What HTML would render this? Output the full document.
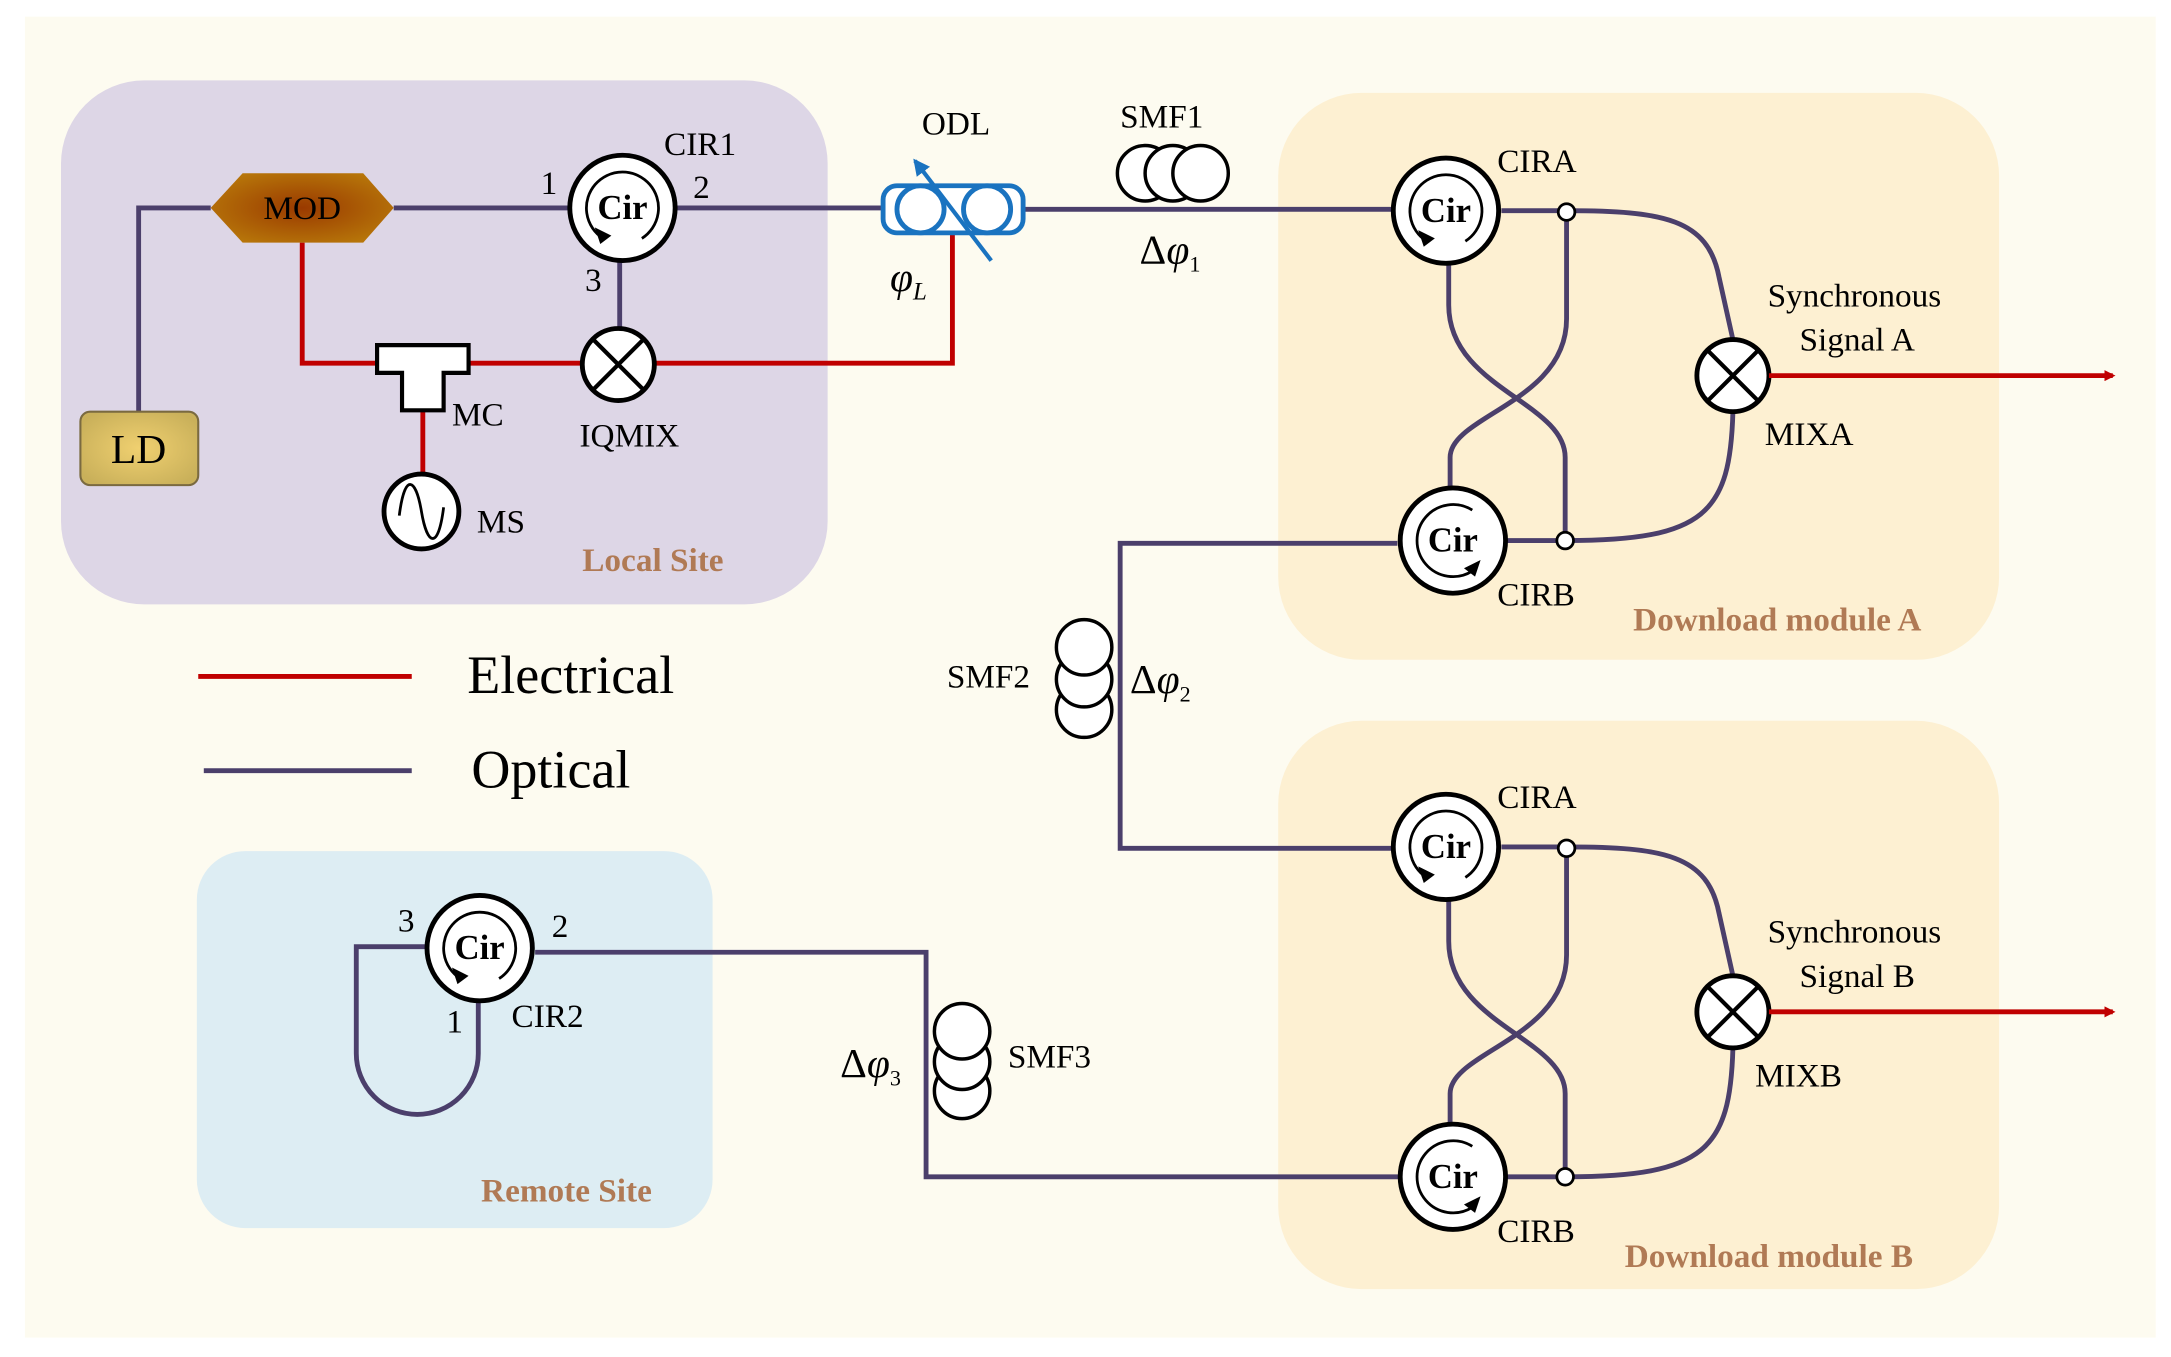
<!DOCTYPE html>
<html><head><meta charset="utf-8"><style>html,body{margin:0;padding:0;background:#fff}svg{display:block}</style></head><body>
<svg width="2171" height="1357" viewBox="0 0 1566 979" preserveAspectRatio="none" xmlns="http://www.w3.org/2000/svg" font-family="'Liberation Serif',serif">
<defs>
<radialGradient id="gMod" cx="50%" cy="50%" r="60%"><stop offset="0" stop-color="#9a3a00"/><stop offset="1" stop-color="#b8780a"/></radialGradient>
<radialGradient id="gLd" cx="50%" cy="50%" r="60%"><stop offset="0" stop-color="#f0d070"/><stop offset="1" stop-color="#c9b05a"/></radialGradient>
<marker id="ar" markerWidth="8" markerHeight="8" refX="6" refY="4" orient="auto" markerUnits="userSpaceOnUse"><path d="M0,0 L8,4 L0,8 z" fill="#c00000"/></marker>
<marker id="ab" markerWidth="14" markerHeight="14" refX="10" refY="7" orient="auto" markerUnits="userSpaceOnUse"><path d="M0,1 L12,7 L0,13 z" fill="#1a73c0"/></marker>
<g id="cirA">
<circle r="38" fill="#fff" stroke="#000" stroke-width="3.5"/>
<path d="M-14,22 A26,26 0 1 1 14,22" fill="none" stroke="#000" stroke-width="2"/>
<path d="M-20,14 L-16,26 L-8,20 z" fill="#000"/>
<text x="0" y="8" text-anchor="middle" font-size="25" font-weight="bold">Cir</text>
</g>
<g id="cirB">
<circle r="38" fill="#fff" stroke="#000" stroke-width="3.5"/>
<path d="M14,-22 A26,26 0 1 0 14,22" fill="none" stroke="#000" stroke-width="2"/>
<path d="M20,14 L16,26 L8,20 z" fill="#000"/>
<text x="0" y="8" text-anchor="middle" font-size="25" font-weight="bold">Cir</text>
</g>
<g id="mix">
<circle r="26" fill="#fff" stroke="#000" stroke-width="3.5"/>
<path d="M-18,-18 L18,18 M18,-18 L-18,18" stroke="#000" stroke-width="3"/>
</g>
<g id="module">
<path d="M1083,152 L1130,152 C1200,152 1232,158 1240,200 L1250,245" fill="none" stroke="#4b3f6b" stroke-width="3.5"/>
<path d="M1250,297 C1248,370 1230,390 1130,390 L1087,390" fill="none" stroke="#4b3f6b" stroke-width="3.5"/>
<path d="M1130,158 L1130,230 C1130,290 1046,300 1046,330 L1046,352" fill="none" stroke="#4b3f6b" stroke-width="3.5"/>
<path d="M1045,190 L1045,220 C1045,280 1129,290 1129,330 L1129,385" fill="none" stroke="#4b3f6b" stroke-width="3.5"/>
<use href="#cirA" x="1043" y="152"/>
<use href="#cirB" x="1048" y="390"/>
<circle cx="1130" cy="153" r="6" fill="#fff" stroke="#000" stroke-width="2"/>
<circle cx="1129" cy="390" r="6" fill="#fff" stroke="#000" stroke-width="2"/>
<use href="#mix" x="1250" y="271"/>
<line x1="1276" y1="271" x2="1524" y2="271" stroke="#c00000" stroke-width="3.5" marker-end="url(#ar)"/>
<text x="1080" y="124" font-size="24">CIRA</text>
<text x="1080" y="437" font-size="24">CIRB</text>
<text x="1275" y="221" font-size="24">Synchronous</text>
</g>
</defs>
<rect width="1566" height="979" fill="#fff"/>
<rect x="18" y="12" width="1537" height="953" fill="#fdfbf0"/>
<rect x="44" y="58" width="553" height="378" rx="60" fill="#ddd6e6"/>
<rect x="142" y="614" width="372" height="272" rx="35" fill="#ddedf3"/>
<rect x="922" y="67" width="520" height="409" rx="60" fill="#fdf0d2"/>
<rect x="922" y="520" width="520" height="410" rx="60" fill="#fdf0d2"/>
<line x1="143" y1="488" x2="297" y2="488" stroke="#c00000" stroke-width="3.5"/>
<text x="337" y="500" font-size="39">Electrical</text>
<line x1="147" y1="556" x2="297" y2="556" stroke="#4b3f6b" stroke-width="3.5"/>
<text x="340" y="568" font-size="39">Optical</text>
<g fill="none" stroke-width="3.5">
<path d="M100,297 L100,150 L152,150" stroke="#4b3f6b"/>
<path d="M284,150 L410,150" stroke="#4b3f6b"/>
<path d="M488,150 L637,150" stroke="#4b3f6b"/>
<path d="M738,151 L1004,151" stroke="#4b3f6b"/>
<path d="M447,189 L447,237" stroke="#4b3f6b"/>
<path d="M218,175 L218,262 L272,262" stroke="#c00000"/>
<path d="M338,262 L419,262" stroke="#c00000"/>
<path d="M473,262 L687,262 L687,168" stroke="#c00000"/>
<path d="M305,296 L305,342" stroke="#c00000"/>
<path d="M1008,392 L808,392 L808,612 L1005,612" stroke="#4b3f6b"/>
<path d="M386,687 L668,687 L668,849 L1010,849" stroke="#4b3f6b"/>
<path d="M307,683 L257,683 L257,760 A44,44 0 0 0 345,760 L345,722" stroke="#4b3f6b"/>
</g>
<rect x="58" y="297" width="85" height="53" rx="7" fill="url(#gLd)" stroke="#7a6a40" stroke-width="1.5"/>
<text x="100" y="334" text-anchor="middle" font-size="30">LD</text>
<polygon points="152,150 175,125 262,125 284,150 262,175 175,175" fill="url(#gMod)"/>
<text x="218" y="158" text-anchor="middle" font-size="24">MOD</text>
<use href="#cirA" x="449" y="150"/>
<use href="#mix" x="446" y="263"/>
<path d="M272,249 L338,249 L338,269 L320,269 L320,296 L290,296 L290,269 L272,269 z" fill="#fff" stroke="#000" stroke-width="3"/>
<circle cx="304" cy="369" r="27" fill="#fff" stroke="#000" stroke-width="3.5"/>
<path d="M288,372 C292,340 300,345 304,369 C308,393 316,398 320,366" fill="none" stroke="#000" stroke-width="2"/>
<rect x="637" y="134" width="101" height="34" rx="10" fill="#fff" stroke="#1a73c0" stroke-width="3.5"/>
<circle cx="664" cy="151" r="17" fill="none" stroke="#1a73c0" stroke-width="3.5"/>
<circle cx="712" cy="151" r="17" fill="none" stroke="#1a73c0" stroke-width="3.5"/>
<line x1="715" y1="188" x2="660" y2="116" stroke="#1a73c0" stroke-width="3" marker-end="url(#ab)"/>
<g fill="#fff" stroke="#000" stroke-width="2.5">
<circle cx="826" cy="125" r="20"/><circle cx="846" cy="125" r="20"/><circle cx="866" cy="125" r="20"/>
<circle cx="782" cy="512" r="20"/><circle cx="782" cy="490" r="20"/><circle cx="782" cy="467" r="20"/>
<circle cx="694" cy="787" r="20"/><circle cx="694" cy="766" r="20"/><circle cx="694" cy="744" r="20"/>
</g>
<use href="#cirA" x="346" y="684"/>
<use href="#module"/>
<use href="#module" y="459"/>
<g font-size="24">
<text x="390" y="140">1</text><text x="500" y="143">2</text><text x="422" y="210">3</text>
<text x="479" y="112">CIR1</text><text x="665" y="97">ODL</text>
<text x="642" y="210" font-style="italic" font-size="30">φ<tspan font-size="18" dy="6">L</tspan></text>
<text x="326" y="307">MC</text><text x="418" y="322">IQMIX</text><text x="344" y="384">MS</text>
<text x="808" y="92">SMF1</text>
<text x="822" y="190" font-size="30">Δ<tspan font-style="italic">φ</tspan><tspan font-size="16" dy="6">1</tspan></text>
<text x="683" y="496">SMF2</text>
<text x="815" y="500" font-size="30">Δ<tspan font-style="italic">φ</tspan><tspan font-size="16" dy="6">2</tspan></text>
<text x="606" y="777" font-size="30">Δ<tspan font-style="italic">φ</tspan><tspan font-size="16" dy="6">3</tspan></text>
<text x="727" y="770">SMF3</text>
<text x="287" y="672">3</text><text x="398" y="676">2</text><text x="322" y="745">1</text><text x="369" y="741">CIR2</text>
<text x="1298" y="253">Signal A</text><text x="1273" y="321">MIXA</text>
<text x="1298" y="712">Signal B</text><text x="1266" y="784">MIXB</text>
</g>
<g font-size="24" font-weight="bold" fill="#b07a55">
<text x="420" y="412">Local Site</text>
<text x="347" y="867">Remote Site</text>
<text x="1178" y="455">Download module A</text>
<text x="1172" y="914">Download module B</text>
</g>
</svg>
</body></html>
